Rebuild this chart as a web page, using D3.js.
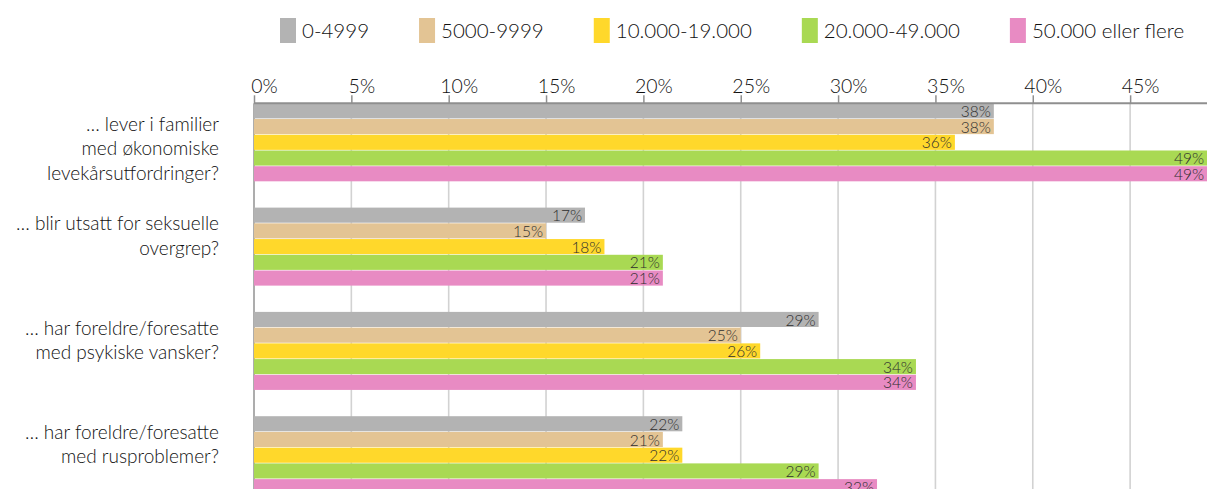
<!DOCTYPE html>
<html>
<head>
<meta charset="utf-8">
<script src="https://cdn.jsdelivr.net/npm/d3@7"></script>
<style>
  body { margin: 0; background: #fff; }
  svg { display: block; font-family: Lato, "Open Sans", sans-serif; font-weight: 300; }
  .axis path { stroke: #8f8f8f; stroke-width: 2; }
  .axis line { stroke: #8f8f8f; stroke-width: 1.5; }
  .axis text { font-size: 19.5px; fill: #111; font-family: Lato, sans-serif; font-weight: 300; }
</style>
</head>
<body>
<div id="chart"></div>
<script>
// data
var categories = [
  ["\u2026 lever i familier", "med \u00f8konomiske", "levek\u00e5rsutfordringer?"],
  ["\u2026 blir utsatt for seksuelle", "overgrep?"],
  ["\u2026 har foreldre/foresatte", "med psykiske vansker?"],
  ["\u2026 har foreldre/foresatte", "med rusproblemer?"]
];
var seriesNames = ["0-4999", "5000-9999", "10.000-19.000", "20.000-49.000", "50.000 eller flere"];
var seriesColors = ["#b3b3b3", "#e3c494", "#ffd82b", "#a9d953", "#e88bc3"];
var seriesValues = [
  [38, 17, 29, 22],
  [38, 15, 25, 21],
  [36, 18, 26, 22],
  [49, 21, 34, 29],
  [49, 21, 34, 32]
];
var tickValues = [0, 5, 10, 15, 20, 25, 30, 35, 40, 45];

var W = 1207, H = 489;
var g = {};
g.left = 254;
g.top = 103.3;

g.x = d3.scaleLinear().domain([0, 49]).range([g.left, 1208]);
g.y = d3.scaleBand()
  .domain(d3.range(categories.length))
  .range([g.top, g.top + 104.3 * (categories.length - 0.252)])
  .paddingInner(0.252)
  .paddingOuter(0);
g.ySub = d3.scaleBand()
  .domain(d3.range(seriesNames.length))
  .range([0, g.y.bandwidth()])
  .paddingInner(0.04);

var svg = d3.select("#chart").append("svg")
  .attr("width", W)
  .attr("height", H);

// gridlines
svg.append("g")
  .selectAll("line").data(tickValues)
  .enter().append("line")
    .attr("x1", function(d) { return g.x(d); })
    .attr("x2", function(d) { return g.x(d); })
    .attr("y1", g.top)
    .attr("y2", H)
    .attr("stroke", function(d) { return d === 0 ? "#999" : "#d2d2d2"; })
    .attr("stroke-width", 1.6);

// bars
var groups = svg.append("g").selectAll("g")
  .data(categories)
  .enter().append("g")
    .attr("transform", function(d, i) { return "translate(0," + g.y(i) + ")"; });

groups.each(function(cat, ci) {
  var grp = d3.select(this);
  var rows = seriesNames.map(function(name, si) {
    return {si: si, v: seriesValues[si][ci]};
  });
  grp.selectAll("rect").data(rows)
    .enter().append("rect")
      .attr("x", g.x(0))
      .attr("y", function(d) { return g.ySub(d.si); })
      .attr("width", function(d) { return g.x(d.v) - g.x(0); })
      .attr("height", g.ySub.bandwidth())
      .attr("fill", function(d) { return seriesColors[d.si]; });

  grp.selectAll("text.val").data(rows)
    .enter().append("text")
      .attr("class", "val")
      .attr("x", function(d) { return Math.min(g.x(d.v), W) - 3; })
      .attr("y", function(d) { return g.ySub(d.si) + g.ySub.bandwidth() - 1.5; })
      .attr("text-anchor", "end")
      .style("font-size", "15.5px")
      .style("fill", "#2e2e2e")
      .text(function(d) { return d.v + "%"; });

  // category label
  var lineH = 24.5;
  var firstY = 16 + (cat.length - 2) * 5;
  grp.append("text")
    .attr("text-anchor", "end")
    .style("font-size", "19px")
    .style("fill", "#111")
    .selectAll("tspan").data(cat)
    .enter().append("tspan")
      .attr("x", 219)
      .attr("y", function(d, i) { return firstY + i * lineH; })
      .attr("dy", "0.35em")
      .text(function(d) { return d; });
});

// top axis
g.xAxis = d3.axisTop(g.x)
  .tickValues(tickValues)
  .tickSize(8)
  .tickSizeOuter(0)
  .tickFormat(function(d) { return d + "%"; });

var ax = svg.append("g")
  .attr("class", "axis")
  .attr("transform", "translate(0," + g.top + ")")
  .call(g.xAxis);
ax.select(".domain").attr("d", "M" + g.x(0) + ",0H" + W);
ax.selectAll(".tick text").attr("dx", 10).attr("y", -10);

// legend
var legend = svg.append("g").attr("transform", "translate(280,0)");
var lx = 0;
seriesNames.forEach(function(name, i) {
  var item = legend.append("g").attr("transform", "translate(" + lx + ",0)");
  item.append("rect")
    .attr("x", 0).attr("y", 18)
    .attr("width", 16).attr("height", 25)
    .attr("fill", seriesColors[i]);
  var t = item.append("text")
    .attr("x", 22).attr("y", 30.5)
    .attr("dy", "0.35em")
    .style("font-size", "20.5px")
    .style("fill", "#111")
    .text(name);
  lx += 22 + t.node().getComputedTextLength() + 50;
});
</script>
</body>
</html>
